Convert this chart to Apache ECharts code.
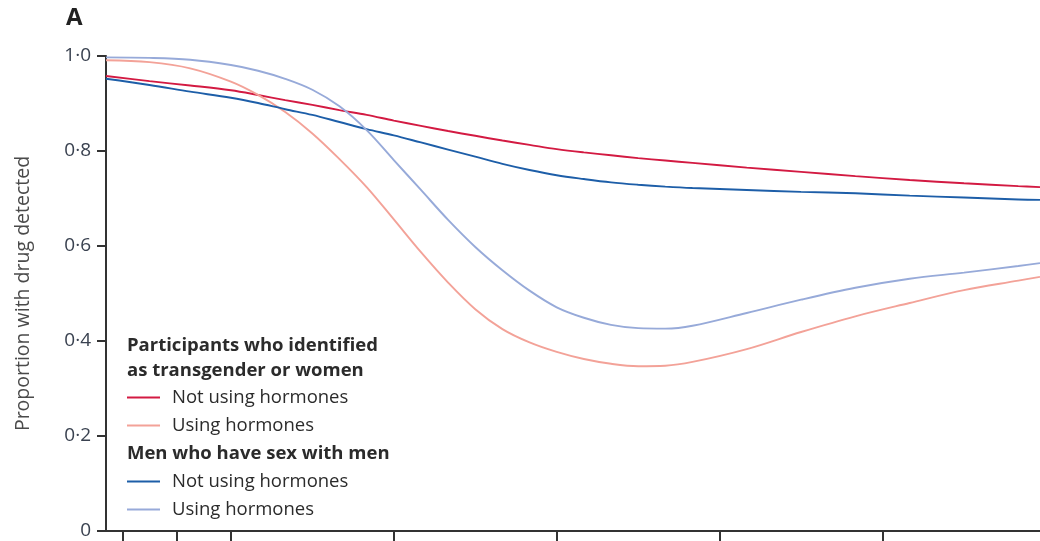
<!DOCTYPE html>
<html>
<head>
<meta charset="utf-8">
<script src="https://cdn.jsdelivr.net/npm/echarts@6/dist/echarts.min.js"></script>
<style>
html,body{margin:0;padding:0;background:#fff;}
#c{width:1040px;height:541px;}
</style>
</head>
<body>
<div id="c"></div>
<script>
// x values: weeks
const weeks = [2.8, 6, 9, 12, 14, 16, 18, 20, 22, 24, 26, 28, 30, 32, 34, 36, 38, 40, 42, 44, 46, 50, 54, 58, 62, 66, 70, 71.6];
const twNoHormones = [0.958, 0.947, 0.938, 0.928, 0.918, 0.907, 0.897, 0.886, 0.876, 0.864, 0.853, 0.842, 0.832, 0.822, 0.813, 0.804, 0.797, 0.791, 0.785, 0.780, 0.775, 0.765, 0.756, 0.747, 0.739, 0.732, 0.726, 0.724];
const twHormones = [0.991, 0.987, 0.974, 0.946, 0.918, 0.882, 0.837, 0.783, 0.724, 0.656, 0.587, 0.523, 0.467, 0.425, 0.397, 0.377, 0.362, 0.352, 0.347, 0.348, 0.356, 0.383, 0.419, 0.452, 0.480, 0.507, 0.527, 0.535];
const msmNoHormones = [0.952, 0.939, 0.925, 0.912, 0.901, 0.888, 0.876, 0.861, 0.846, 0.833, 0.818, 0.803, 0.788, 0.773, 0.760, 0.749, 0.741, 0.734, 0.729, 0.725, 0.722, 0.718, 0.714, 0.711, 0.706, 0.702, 0.698, 0.697];
const msmHormones = [0.997, 0.996, 0.992, 0.981, 0.969, 0.952, 0.929, 0.894, 0.844, 0.781, 0.718, 0.655, 0.598, 0.549, 0.506, 0.471, 0.449, 0.434, 0.427, 0.426, 0.432, 0.459, 0.487, 0.512, 0.531, 0.544, 0.558, 0.564];
const xTicks = [4, 8, 12, 24, 36, 48, 60];
const groupTW = 'Participants who identified\nas transgender or women';
const groupMSM = 'Men who have sex with men';
const labelNo = 'Not using hormones';
const labelYes = 'Using hormones';

const pair = (ys) => weeks.map((w, i) => [w, ys[i]]);
const FONT = '"Open Sans", "Noto Sans", sans-serif';
const TXT = '#2b2b2b';

const chart = echarts.init(document.getElementById('c'), null, {renderer: 'canvas'});
const mk = (name, data, color) => ({
  name: name, type: 'line', data: pair(data), smooth: 0.35, symbol: 'none',
  lineStyle: {color: color, width: 1.9}, itemStyle: {color: color}, z: 3
});
const legendCommon = {
  orient: 'vertical', left: 127, padding: 0, itemWidth: 33, itemHeight: 14, itemGap: 9,
  icon: 'path://M0,6 L33,6 L33,8.2 L0,8.2 Z',
  textStyle: {fontFamily: FONT, fontSize: 18.5, color: TXT, padding: [0, 0, 0, 7]},
  formatter: (n) => n.split('|')[1], selectedMode: false
};
chart.setOption({
  animation: false,
  grid: {left: 106, right: 0, top: 56, bottom: 10, containLabel: false, outerBoundsMode: 'none'},
  xAxis: {
    type: 'value', min: 2.8, max: 71.6,
    axisLine: {show: true, lineStyle: {color: '#333', width: 2}},
    axisTick: {show: true, customValues: xTicks, length: 12, inside: false, lineStyle: {color: '#333', width: 2}},
    axisLabel: {show: false},
    splitLine: {show: false}
  },
  yAxis: {
    type: 'value', min: 0, max: 1, interval: 0.2,
    name: 'Proportion with drug detected', nameLocation: 'middle', nameGap: 73, nameRotate: 90,
    nameTextStyle: {fontFamily: FONT, fontSize: 19.5, color: '#4a4a4a'},
    axisLine: {show: true, lineStyle: {color: '#333', width: 2}},
    axisTick: {show: true, length: 9, lineStyle: {color: '#333', width: 2}},
    axisLabel: {fontFamily: FONT, fontSize: 19, color: '#3a4250', margin: 15,
      formatter: (v) => v === 0 ? '0' : v.toFixed(1).replace('.', '·')},
    splitLine: {show: false}
  },
  legend: [
    Object.assign({}, legendCommon, {top: 388, data: ['tw0|' + labelNo, 'tw1|' + labelYes]}),
    Object.assign({}, legendCommon, {top: 472, data: ['msm0|' + labelNo, 'msm1|' + labelYes]})
  ],
  graphic: [
    {type: 'text', left: 66, top: 6, style: {text: 'A', fontFamily: FONT, fontWeight: 'bold', fontSize: 24, fill: '#222'}},
    {type: 'text', left: 127, top: 333, style: {text: groupTW, fontFamily: FONT, fontWeight: 'bold', fontSize: 18.5, lineHeight: 25, fill: TXT}},
    {type: 'text', left: 127, top: 441, style: {text: groupMSM, fontFamily: FONT, fontWeight: 'bold', fontSize: 18.5, lineHeight: 25, fill: TXT}}
  ],
  series: [
    mk('tw0|' + labelNo, twNoHormones, '#d31a42'),
    mk('tw1|' + labelYes, twHormones, '#f3a298'),
    mk('msm0|' + labelNo, msmNoHormones, '#1d5ea8'),
    mk('msm1|' + labelYes, msmHormones, '#97aad9')
  ]
});
</script>
</body>
</html>
